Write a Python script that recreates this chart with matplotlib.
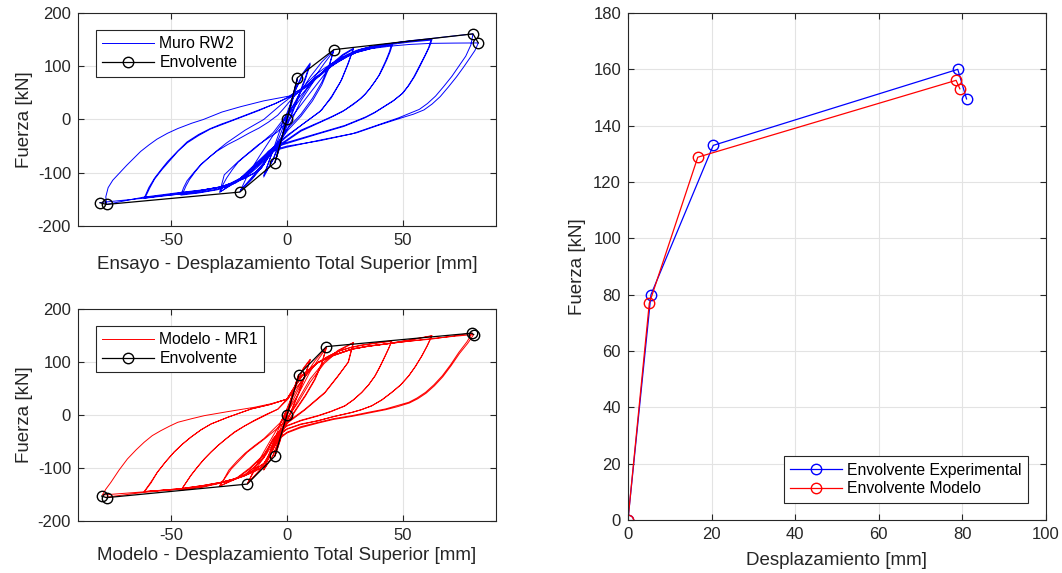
import matplotlib
matplotlib.use("Agg")
import matplotlib.pyplot as plt

plt.rcParams["font.family"] = ["Liberation Sans", "DejaVu Sans"]
plt.rcParams["axes.unicode_minus"] = False

# ---------------- Muro RW2 (ensayo): historia fuerza-desplazamiento por nivel ----------------
rw2_ciclo_05 = [(0, 0), (2, 35), (4.5, 78), (3, 50), (1, 15), (-1, -18), (-3, -50), (-5.2, -81),
                (-3, -48), (-1, -12), (1, 20), (3, 52), (4.4, 74), (3, 45), (1, 12), (-1, -20),
                (-3, -52), (-5, -78)]
rw2_ciclo_10 = [(-2, -30), (1, 20), (4, 60), (7, 88), (10, 106), (8, 80), (5, 45), (2, 12), (0, -8),
                (-3, -40), (-6, -75), (-10, -108), (-8, -82), (-5, -45), (-2, -8), (0, 12), (4, 58),
                (7, 85), (10, 103), (8, 76), (5, 42), (2, 8), (0, -12), (-3, -44), (-6, -76), (-10, -105)]
rw2_ciclo_20 = [(-7, -70), (-3, -30), (0, 5), (5, 45), (10, 80), (15, 108), (20.2, 131), (18, 100),
                (15, 70), (11, 40), (6, 10), (0, -18), (-5, -50), (-10, -85), (-15, -112), (-20.3, -136),
                (-17, -105), (-12, -70), (-6, -30), (0, 5), (6, 40), (12, 80), (16, 105), (20, 128),
                (18, 96), (15, 65), (11, 35), (6, 6), (0, -22), (-6, -60), (-12, -95), (-16, -115),
                (-20, -133)]
rw2_ciclo_29 = [(-15, -108), (-8, -70), (0, -20), (6, 35), (12, 75), (18, 100), (24, 122), (28.7, 134),
                (26.5, 106), (23.6, 75), (19.3, 44), (15, 18), (8, -5), (0, -30), (-8, -60), (-14, -85),
                (-20, -110), (-25, -125), (-29, -137), (-27, -104), (-21, -79), (-12.5, -48), (-4, -23),
                (3, 10), (10, 50), (18, 95), (24, 120), (28.5, 132), (26, 102), (23, 70), (19, 40),
                (14, 14), (7, -8), (0, -32), (-8, -62), (-15, -92), (-22, -118), (-28.5, -135)]
rw2_ciclo_45 = [(-27.5, -122), (-26, -110), (-23.5, -94), (-21, -80), (-17.5, -67), (-14, -55),
                (-10, -40), (-6, -25), (-2.5, -5), (1, 15), (5, 40), (7.5, 53), (10, 65), (14, 83),
                (18, 98), (21.5, 109), (25, 118), (28.5, 126), (32, 132), (38, 138), (45.5, 142),
                (44.5, 128), (43, 112), (41.5, 98), (40, 85), (38, 72), (36, 60), (34, 49), (32, 40),
                (28.5, 28), (25, 18), (20, 7), (15, -3), (6, -20), (0, -38), (-6, -55), (-8, -64),
                (-10, -75), (-13, -88), (-16, -100), (-19, -110), (-22, -118), (-26, -126), (-30, -132),
                (-38, -138), (-45.7, -142),
                (-44.5, -128), (-43, -115), (-40, -99), (-37, -84), (-33.5, -71), (-30, -59),
                (-25.5, -47), (-21, -37), (-16.5, -26), (-12, -16), (-8, -5), (-4, 8), (-1.5, 20),
                (1, 33), (3.5, 45), (6, 56), (9, 70), (12, 83), (16, 96), (20, 107), (24, 117),
                (28, 125), (32, 131), (36, 135), (45, 140),
                (44, 126), (42.5, 110), (41, 96), (39.5, 82), (37.5, 69), (35.5, 57), (33.5, 47),
                (31, 37), (27.5, 26), (24, 15), (19, 4), (14, -6), (6, -22), (0, -40), (-6, -58),
                (-8, -67), (-10, -78), (-13, -91), (-16, -102), (-19, -111), (-22, -119), (-26, -126),
                (-30, -131), (-38, -137), (-45, -140)]
rw2_ciclo_62 = [(-43.5, -125), (-42, -113), (-39.5, -98), (-37, -85), (-33.5, -71), (-30, -58),
                (-26, -44), (-22, -32), (-18, -20), (-14, -10), (-10, 0), (-6, 15), (-2.5, 28), (1, 40),
                (4.5, 50), (8, 62), (11.5, 75), (15, 88), (18.5, 100), (22, 110), (26, 120), (30, 128),
                (35, 135), (40, 140), (50, 146), (62.5, 151),
                (61.5, 138), (60, 124), (57.5, 102), (55, 81), (52.5, 64), (50, 50), (46, 36), (42, 25),
                (38, 14), (34, 5), (25, -11), (14, -25), (0, -43), (-5, -50), (-8, -60), (-10, -72),
                (-12, -82), (-16, -97), (-20, -110), (-24, -119), (-28, -126), (-38, -134), (-46, -140),
                (-61.5, -148),
                (-59.5, -128), (-57, -110), (-54, -93), (-51.4, -79), (-47, -59), (-43, -42), (-38, -28),
                (-33, -17), (-28.5, -9), (-24, -2), (-18, 8), (-12, 18), (-5, 30), (1, 42), (4.5, 50),
                (8, 60), (11.5, 73), (15, 86), (18.5, 98), (22, 108), (26, 118), (30, 126), (37, 134),
                (45, 141), (53, 145.5), (62, 149),
                (61, 135), (59.5, 121), (57, 100), (54.5, 79), (52, 62), (49.5, 48), (45.5, 34),
                (41.5, 23), (37.5, 12), (33.5, 3), (24.5, -13), (13.5, -27), (0, -45), (-5, -52),
                (-8, -62), (-10, -74), (-12, -84), (-16, -98), (-20, -111), (-24, -120), (-28, -127),
                (-38, -135), (-46, -140), (-61, -146)]
rw2_ciclo_80 = [(-59, -128), (-57, -112), (-54, -95), (-51, -80), (-47, -60), (-43, -44), (-38, -30),
                (-33, -18), (-24, -3), (-12, 17), (-5, 30), (1, 43), (4, 52), (8, 62), (11, 74), (15, 88),
                (18, 100), (22, 112), (26, 122), (30, 130), (36, 137), (45, 143), (53, 148), (62, 152),
                (70, 156), (80.1, 160.8),
                (79.2, 140), (77, 119), (74, 100), (71, 81), (67.5, 62), (64, 44), (60.5, 30), (57, 19),
                (52, 10), (48, 3), (38, -12), (28, -27), (14, -40), (0, -50), (-5, -56), (-8, -66),
                (-10, -85), (-14, -100), (-18, -110), (-23, -119), (-28, -126), (-36, -132), (-46, -137),
                (-62, -146), (-77.7, -159.5),
                (-78, -145), (-77, -128), (-75, -114), (-72, -100), (-69, -86), (-66, -73), (-63, -60),
                (-59.5, -48), (-56, -37), (-51.5, -26), (-47, -17), (-41, -7), (-36, 0), (-28, 14),
                (-20, 24), (-10, 35), (1, 44), (4, 52), (8, 60), (11, 72), (15, 85), (18, 97), (22, 108),
                (26, 118), (30, 126), (36, 133), (45, 138), (53, 141), (62, 143), (72, 143.5),
                (82.4, 143.8),
                (81, 130), (79, 117), (76, 98), (73, 80), (69.5, 61), (66, 43), (62.5, 29), (59, 18),
                (54.5, 10), (50, 4), (40, -10), (30, -25), (15, -38), (0, -52), (-5, -58), (-8, -68),
                (-11, -92), (-15, -103), (-19, -112), (-24, -120), (-29, -127), (-37, -133), (-46, -138),
                (-62, -148), (-80.5, -156)]

rw2_env_d = [-80.5, -77.7, -20.3, -5.2, 0, 4.5, 20.2, 80.1, 82.4]
rw2_env_f = [-156.4, -159.5, -136.3, -81.0, 0, 78.5, 131.2, 160.8, 143.8]

# ---------------- Modelo MR1: historia fuerza-desplazamiento por nivel ----------------
mr1_ciclo_05 = [(0, 0), (2, 33), (5, 76), (3, 48), (1, 14), (-1, -18), (-3, -48), (-5.2, -77.5),
                (-3, -46), (-1, -12), (1, 18), (3, 50), (5, 75), (3, 46), (1, 12), (-1, -20),
                (-3, -50), (-5, -76)]
mr1_ciclo_10 = [(-2, -25), (1, 18), (4, 58), (7, 88), (10, 105), (8, 78), (5, 42), (2, 10), (0, -10),
                (-3, -42), (-6, -76), (-10, -104), (-8, -78), (-5, -42), (-2, -8), (0, 12), (4, 56),
                (7, 86), (10, 104), (8, 76), (5, 40), (2, 8), (0, -12), (-3, -44), (-6, -77), (-10, -103)]
mr1_ciclo_17 = [(-7, -68), (-3, -28), (0, 5), (4, 40), (8, 75), (12, 102), (17, 129), (15, 98),
                (12, 68), (8, 38), (4, 12), (0, -15), (-4, -45), (-8, -78), (-12, -105),
                (-17.1, -130.4), (-14, -102), (-10, -70), (-5, -32), (0, 4), (5, 40), (10, 82),
                (14, 108), (17, 127), (15, 96), (12, 66), (8, 36), (4, 10), (0, -17), (-4, -47),
                (-8, -80), (-12, -106), (-17, -129)]
mr1_ciclo_29 = [(-14, -105), (-9, -75), (-4, -40), (0, -10), (5, 30), (10, 68), (16, 100), (22, 122),
                (28.7, 137), (26.5, 100), (22, 74), (16.4, 43), (7.8, 11), (0, -14), (-5, -40),
                (-10, -75), (-16, -100), (-22, -120), (-29.1, -134.5), (-24, -102), (-17, -70),
                (-9.6, -45), (-1, -14), (5, 25), (10, 62), (16, 97), (22, 120), (28.5, 136),
                (26.3, 99), (21.8, 72), (16.2, 41), (7.6, 9), (0, -16), (-5, -42), (-10, -77),
                (-16, -102), (-22, -121), (-29, -134)]
mr1_ciclo_45 = [(-27, -120), (-25, -104), (-21.5, -87), (-18, -72), (-14, -58), (-10, -45),
                (-6.5, -30), (-3, -15), (-1, 0), (1, 20), (3.5, 42), (6, 62), (9.5, 82), (13, 98),
                (17.5, 110), (22, 120), (27, 127), (32, 132), (38, 136), (45.2, 140),
                (44, 127), (42.4, 112), (40.2, 92), (38, 74), (35.2, 57), (32.3, 43), (28.7, 29),
                (25, 17.5), (19, 7), (13.5, -1), (6, -10), (0, -20), (-3, -30), (-6, -45), (-8, -62),
                (-10, -80), (-14, -98), (-18, -112), (-23, -121), (-28, -127), (-36, -135),
                (-45.7, -142),
                (-43.5, -128), (-41.4, -114.5), (-38.5, -98), (-35.6, -83), (-32.7, -70),
                (-29.8, -58), (-26.2, -45), (-22.6, -33), (-18.3, -21), (-14, -11), (-9, 0),
                (-3.9, 11), (0, 28), (3, 46), (6, 62), (9.5, 82), (13, 98), (17.5, 110), (22, 120),
                (27, 126.5), (32, 131), (38, 135), (45, 139),
                (43.8, 126), (42.2, 111), (40, 91), (37.8, 73), (35, 56), (32.1, 42), (28.5, 28),
                (24.8, 16.5), (18.8, 6), (13.3, -2), (6, -11), (0, -21), (-3, -31), (-6, -46),
                (-8, -63), (-10, -81), (-14, -99), (-18, -113), (-23, -122), (-28, -128), (-36, -136),
                (-45.5, -141.5)]
mr1_ciclo_62 = [(-43.5, -128), (-41.4, -114), (-38.5, -98), (-35.6, -83), (-32.7, -70), (-29.8, -58),
                (-26, -44), (-22.6, -32), (-18, -20), (-14, -10), (-9, 1), (-3.9, 11), (0, 30), (3, 52),
                (6.4, 74), (10, 88), (13.5, 99.6), (20, 113), (28, 124.5), (35, 130), (42.4, 134),
                (52, 141), (62.5, 149.7),
                (60.5, 131), (58.2, 112), (55.4, 92), (52.5, 74), (49, 57), (45.2, 43), (41, 29),
                (36.6, 17.5), (32, 10), (28, 5), (20, -3), (13.5, -10.7), (6, -17), (0, -26), (-3, -36),
                (-5, -50), (-7.5, -72), (-9.6, -90), (-14, -103), (-18.3, -114), (-23, -121),
                (-28.4, -127), (-36, -133), (-45.7, -139), (-61.5, -144.6),
                (-58.5, -126), (-55.8, -108), (-52.2, -88), (-48.6, -70), (-45, -55), (-41.4, -42),
                (-37, -28), (-32.7, -17), (-25.5, -4.4), (-15.4, 11.3), (-7, 20), (0, 30), (3, 51),
                (6.4, 73), (10, 87), (13.5, 99), (20, 112), (28, 124), (35, 129.5), (42.4, 133.5),
                (52, 140.5), (62.3, 149),
                (60.3, 130), (58, 111), (55.2, 91), (52.3, 73), (48.8, 56), (45, 42), (40.8, 28),
                (36.4, 17), (31.8, 9.5), (27.8, 4.5), (19.8, -3.5), (13.3, -11), (6, -18), (0, -27),
                (-3, -37), (-5, -51), (-7.5, -73), (-9.6, -91), (-14, -104), (-18.3, -115), (-23, -122),
                (-28.4, -128), (-36, -134), (-45.7, -140), (-61.3, -144.4)]
mr1_ciclo_80 = [(-58.5, -128), (-55.8, -108), (-52.2, -88), (-48.6, -70), (-45, -55), (-41.4, -42),
                (-37, -28), (-32.7, -17), (-25.5, -4.4), (-15.4, 11.3), (-7, 20), (0, 30), (3, 50),
                (6.4, 74), (10, 88), (13.5, 99.6), (20, 113), (28, 124.5), (35, 130), (42.4, 134),
                (52, 139), (62, 143), (70, 148), (79.8, 154.7),
                (77.5, 138), (74, 118), (70.5, 95), (66.9, 74), (63.3, 57), (59.7, 42.8), (56, 32),
                (52.5, 24), (47, 17), (42.4, 11.3), (35, 5), (28, -1.3), (20, -7), (13.5, -13.8),
                (6, -22), (0, -32.6), (-3, -42), (-5, -55), (-7.5, -78), (-9.6, -95), (-14, -106),
                (-18.3, -114), (-23, -121), (-28.4, -127), (-36, -133), (-45.7, -139), (-61.5, -145),
                (-79.5, -151),
                (-78, -140), (-75.8, -127), (-72.3, -104), (-68.7, -83), (-65, -66), (-61.5, -51.5),
                (-58, -39), (-54.3, -29.6), (-50.5, -21), (-47, -13.8), (-41, -7), (-35.6, -1.3),
                (-25.5, 6.3), (-14, 14.5), (-7, 21), (0.4, 30), (3, 50), (6.4, 73), (10, 87),
                (13.5, 99), (20, 112), (28, 124), (35, 129.5), (42.4, 134), (52, 139), (62, 144),
                (71, 148), (80.4, 151.8),
                (77.8, 135), (74.3, 116), (70.7, 93), (67.1, 72), (63.5, 55), (59.9, 41), (56.3, 30.5),
                (52.7, 22.5), (47.5, 15.5), (42.6, 10), (35, 3.5), (28.2, -2.5), (20, -8.5),
                (13.7, -15), (6, -24), (0, -34), (-3, -44), (-5, -57), (-7.5, -80), (-9.6, -96),
                (-14, -107), (-18.3, -115), (-23, -122), (-28.4, -128), (-36, -134), (-45.7, -140),
                (-61.5, -146), (-77.7, -155)]

mr1_env_d = [-79.8, -77.7, -17.1, -5.2, 0, 5.2, 17.0, 79.5, 80.4]
mr1_env_f = [-153.0, -156.0, -130.4, -77.5, 0, 76.2, 129.0, 154.3, 151.8]

# ---------------- Envolventes promedio ----------------
env_exp_d = [0, 5.5, 20.4, 78.9, 81.0]
env_exp_f = [0, 80.0, 133.0, 160.0, 149.5]
env_mod_d = [0, 5.1, 16.7, 78.5, 79.4]
env_mod_f = [0, 76.9, 128.8, 156.1, 153.1]

rw2_niveles = [rw2_ciclo_05, rw2_ciclo_10, rw2_ciclo_20, rw2_ciclo_29,
               rw2_ciclo_45, rw2_ciclo_62, rw2_ciclo_80]
mr1_niveles = [mr1_ciclo_05, mr1_ciclo_10, mr1_ciclo_17, mr1_ciclo_29,
               mr1_ciclo_45, mr1_ciclo_62, mr1_ciclo_80]

GRID = "#e3e3e3"
EDGE = "#262626"
FS_TICK = 12
FS_LEG = 11.3
FS_LABEL = 13.5


def historia(niveles):
    d, f = [], []
    for nivel in niveles:
        for x, y in nivel:
            d.append(x)
            f.append(y)
    return d, f


def estilo(ax):
    ax.grid(True, color=GRID, linewidth=0.8)
    ax.set_axisbelow(True)
    for s in ax.spines.values():
        s.set_color(EDGE)
        s.set_linewidth(0.8)
    ax.tick_params(direction="in", top=True, right=True, colors=EDGE,
                   labelsize=FS_TICK, length=4, width=0.8, pad=5)


def leyenda(ax, loc, anchor):
    leg = ax.legend(loc=loc, bbox_to_anchor=anchor, borderaxespad=0, fontsize=FS_LEG,
                    frameon=True, fancybox=False, edgecolor=EDGE, framealpha=1,
                    handlelength=3.3, borderpad=0.4, labelspacing=0.25, handletextpad=0.35)
    leg.get_frame().set_linewidth(0.8)


fig = plt.figure(figsize=(10.62, 5.73), dpi=100)

ax1 = fig.add_axes([0.0734, 0.6056, 0.3936, 0.3717])
ax2 = fig.add_axes([0.0734, 0.0908, 0.3936, 0.3700])
ax3 = fig.add_axes([0.5913, 0.0925, 0.3936, 0.8848])

for ax, niveles, color, nombre, ed, ef, xlab, pad in [
        (ax1, rw2_niveles, "#0000ff", "Muro RW2", rw2_env_d, rw2_env_f,
         "Ensayo - Desplazamiento Total Superior [mm]", 6),
        (ax2, mr1_niveles, "#ff0000", "Modelo - MR1", mr1_env_d, mr1_env_f,
         "Modelo - Desplazamiento Total Superior [mm]", 3)]:
    d, f = historia(niveles)
    ax.plot(d, f, color=color, linewidth=0.7, label=nombre)
    ax.plot(ed, ef, color="black", linewidth=0.9, marker="o", markersize=7.5,
            markerfacecolor="none", markeredgewidth=1.0, label="Envolvente")
    ax.set_xlim(-90, 90)
    ax.set_ylim(-200, 200)
    ax.set_xticks([-50, 0, 50])
    ax.set_yticks([-200, -100, 0, 100, 200])
    estilo(ax)
    ax.set_xlabel(xlab, fontsize=FS_LABEL, color=EDGE, labelpad=pad)
    ax.set_ylabel("Fuerza [kN]", fontsize=FS_LABEL, color=EDGE, labelpad=3)
    leyenda(ax, "upper left", (0.043, 0.92))

ax3.plot(env_exp_d, env_exp_f, color="#0000ff", linewidth=0.9, marker="o", markersize=7.5,
         markerfacecolor="none", markeredgewidth=1.0, label="Envolvente Experimental")
ax3.plot(env_mod_d, env_mod_f, color="#ff0000", linewidth=0.9, marker="o", markersize=7.5,
         markerfacecolor="none", markeredgewidth=1.0, label="Envolvente Modelo")
ax3.set_xlim(0, 100)
ax3.set_ylim(0, 180)
ax3.set_xticks(range(0, 101, 20))
ax3.set_yticks(range(0, 181, 20))
estilo(ax3)
ax3.set_xlabel("Desplazamiento [mm]", fontsize=FS_LABEL, color=EDGE, labelpad=7)
ax3.set_ylabel("Fuerza [kN]", fontsize=FS_LABEL, color=EDGE, labelpad=5)
leyenda(ax3, "lower right", (0.957, 0.034))

fig.savefig("out.png", dpi=100)
